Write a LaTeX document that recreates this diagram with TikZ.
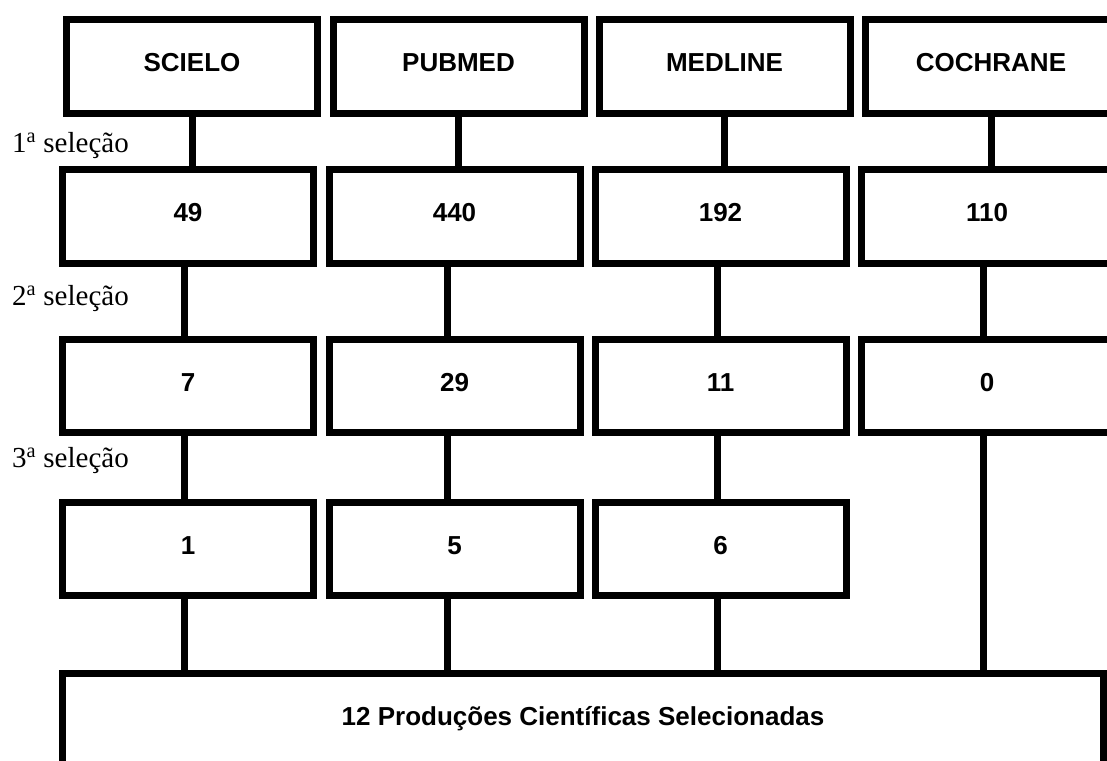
\documentclass[tikz,border=0pt]{standalone}
\usepackage{fontspec}
\setmainfont{Liberation Serif}
\newfontfamily\arialfont{Liberation Sans}
\begin{document}
\begin{tikzpicture}[x=1pt,y=-1pt,
  box/.style={draw, line width=7pt, minimum width=251pt, inner sep=0pt,
    font=\arialfont\bfseries\fontsize{26}{30}\selectfont,
    text height=18.6pt, text depth=8pt},
  conn/.style={line width=7pt},
  sel/.style={anchor=base west, inner sep=0pt, font=\fontsize{29}{34}\selectfont}]
\useasboundingbox (0,0) rectangle (1107,760);
\clip (0,0) rectangle (1107,760);
% row 1
\node[box, minimum height=94pt] (a1) at (192,66.5) {SCIELO};
\node[box, minimum height=94pt] (b1) at (458.5,66.5) {PUBMED};
\node[box, minimum height=94pt] (c1) at (724.5,66.5) {MEDLINE};
\node[box, minimum height=94pt] (d1) at (991,66.5) {COCHRANE};
% row 2
\node[box, minimum height=94pt] (a2) at (188,216.5) {49};
\node[box, minimum height=94pt] (b2) at (454.5,216.5) {440};
\node[box, minimum height=94pt] (c2) at (720.5,216.5) {192};
\node[box, minimum height=94pt] (d2) at (987,216.5) {110};
% row 3
\node[box, minimum height=93pt] (a3) at (188,386) {7};
\node[box, minimum height=93pt] (b3) at (454.5,386) {29};
\node[box, minimum height=93pt] (c3) at (720.5,386) {11};
\node[box, minimum height=93pt] (d3) at (987,386) {0};
% row 4
\node[box, minimum height=93pt] (a4) at (188,549) {1};
\node[box, minimum height=93pt] (b4) at (454.5,549) {5};
\node[box, minimum height=93pt] (c4) at (720.5,549) {6};
% final
\node[box, minimum width=1041pt, minimum height=93pt] (fin) at (583,720) {12 Produções Científicas Selecionadas};
% labels
\node[sel] (l1) at (12,152) {1\textsuperscript{a} seleção};
\node[sel] (l2) at (12,305) {2\textsuperscript{a} seleção};
\node[sel] (l3) at (12,467) {3\textsuperscript{a} seleção};
% connector columns
\coordinate (ta) at (192,0);
\coordinate (tb) at (458.5,0);
\coordinate (tc) at (724.5,0);
\coordinate (td) at (991,0);
\coordinate (ka) at (184.5,0);
\coordinate (kb) at (447,0);
\coordinate (kc) at (717,0);
\coordinate (kd) at (983,0);
% connectors
\draw[conn] (a1.south -| ta) -- (a2.north -| ta);
\draw[conn] (b1.south -| tb) -- (b2.north -| tb);
\draw[conn] (c1.south -| tc) -- (c2.north -| tc);
\draw[conn] (d1.south -| td) -- (d2.north -| td);
\draw[conn] (a2.south -| ka) -- (a3.north -| ka);
\draw[conn] (b2.south -| kb) -- (b3.north -| kb);
\draw[conn] (c2.south -| kc) -- (c3.north -| kc);
\draw[conn] (d2.south -| kd) -- (d3.north -| kd);
\draw[conn] (a3.south -| ka) -- (a4.north -| ka);
\draw[conn] (b3.south -| kb) -- (b4.north -| kb);
\draw[conn] (c3.south -| kc) -- (c4.north -| kc);
\draw[conn] (d3.south -| kd) -- (fin.north -| kd);
\draw[conn] (a4.south -| ka) -- (fin.north -| ka);
\draw[conn] (b4.south -| kb) -- (fin.north -| kb);
\draw[conn] (c4.south -| kc) -- (fin.north -| kc);
\end{tikzpicture}
\end{document}
